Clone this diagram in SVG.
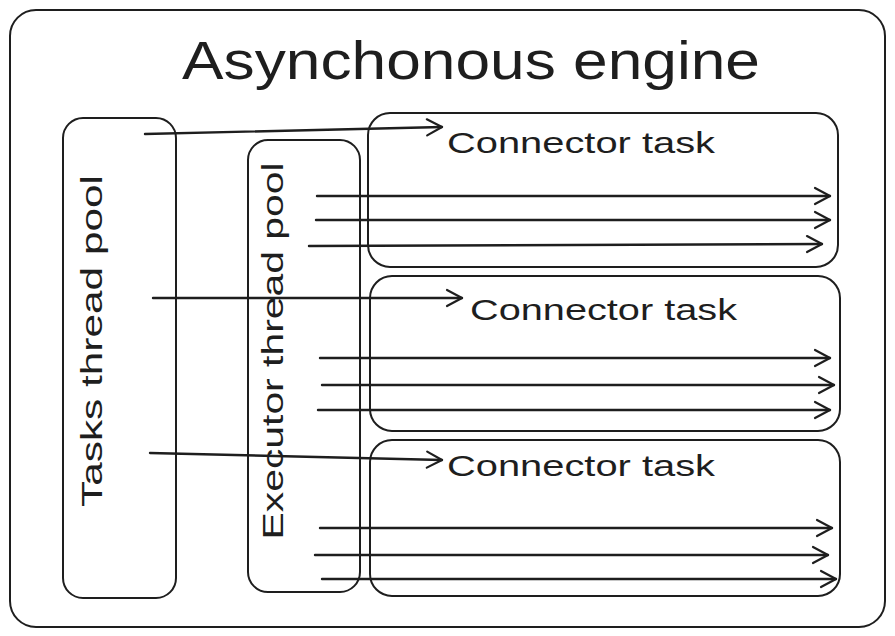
<svg xmlns="http://www.w3.org/2000/svg" width="895" height="636" viewBox="0 0 895 636">
<defs>
<style>
.box{fill:none;stroke:#1e1e1e;stroke-width:2;stroke-linejoin:round}
.ln{fill:none;stroke:#1e1e1e;stroke-width:2.4;stroke-linecap:round}
.txt{font-family:"Liberation Sans","DejaVu Sans",sans-serif;fill:#1e1e1e}
</style>
<marker id="ah" viewBox="0 0 20 20" refX="18" refY="10" markerWidth="20" markerHeight="20" markerUnits="userSpaceOnUse" orient="auto">
<path d="M3,2 L18,10 L3,18" fill="none" stroke="#1e1e1e" stroke-width="2.2" stroke-linecap="round" stroke-linejoin="round"/>
</marker>
</defs>
<rect width="895" height="636" fill="#ffffff"/>
<g id="engine">
<rect class="box" x="10" y="10" width="875" height="617" rx="26"/>
<text class="txt" x="471" y="79" font-size="54" text-anchor="middle" textLength="578" lengthAdjust="spacingAndGlyphs">Asynchonous engine</text>
</g>
<g id="tasks-pool">
<rect class="box" x="63" y="118" width="113" height="480" rx="20"/>
<text class="txt" transform="translate(102,341) rotate(-90)" font-size="30" text-anchor="middle" textLength="332" lengthAdjust="spacingAndGlyphs">Tasks thread pool</text>
</g>
<g id="executor-pool">
<rect class="box" x="248" y="140" width="112" height="452" rx="20"/>
<text class="txt" transform="translate(283,351) rotate(-90)" font-size="30" text-anchor="middle" textLength="377" lengthAdjust="spacingAndGlyphs">Executor thread pool</text>
</g>
<g id="connector-task-1">
<rect class="box" x="368" y="113" width="470" height="154" rx="22"/>
<text class="txt" x="447" y="153" font-size="30" textLength="268" lengthAdjust="spacingAndGlyphs">Connector task</text>
</g>
<g id="connector-task-2">
<rect class="box" x="370" y="276" width="470" height="155" rx="22"/>
<text class="txt" x="470" y="320" font-size="30" textLength="267" lengthAdjust="spacingAndGlyphs">Connector task</text>
</g>
<g id="connector-task-3">
<rect class="box" x="370" y="440" width="470" height="156" rx="22"/>
<text class="txt" x="447" y="476" font-size="30" textLength="268" lengthAdjust="spacingAndGlyphs">Connector task</text>
</g>
<g id="connectors">
<line class="ln" x1="145" y1="134" x2="442" y2="127" marker-end="url(#ah)"/>
<line class="ln" x1="153" y1="298" x2="462" y2="298" marker-end="url(#ah)"/>
<line class="ln" x1="150" y1="453" x2="442" y2="460" marker-end="url(#ah)"/>
<line class="ln" x1="317" y1="196" x2="830" y2="196" marker-end="url(#ah)"/>
<line class="ln" x1="316" y1="220" x2="830" y2="220" marker-end="url(#ah)"/>
<line class="ln" x1="309" y1="246" x2="822" y2="244" marker-end="url(#ah)"/>
<line class="ln" x1="320" y1="358" x2="830" y2="358" marker-end="url(#ah)"/>
<line class="ln" x1="322" y1="385" x2="834" y2="385" marker-end="url(#ah)"/>
<line class="ln" x1="318" y1="410" x2="830" y2="410" marker-end="url(#ah)"/>
<line class="ln" x1="320" y1="528" x2="832" y2="528" marker-end="url(#ah)"/>
<line class="ln" x1="315" y1="555" x2="828" y2="555" marker-end="url(#ah)"/>
<line class="ln" x1="322" y1="579" x2="836" y2="579" marker-end="url(#ah)"/>
</g>
</svg>
